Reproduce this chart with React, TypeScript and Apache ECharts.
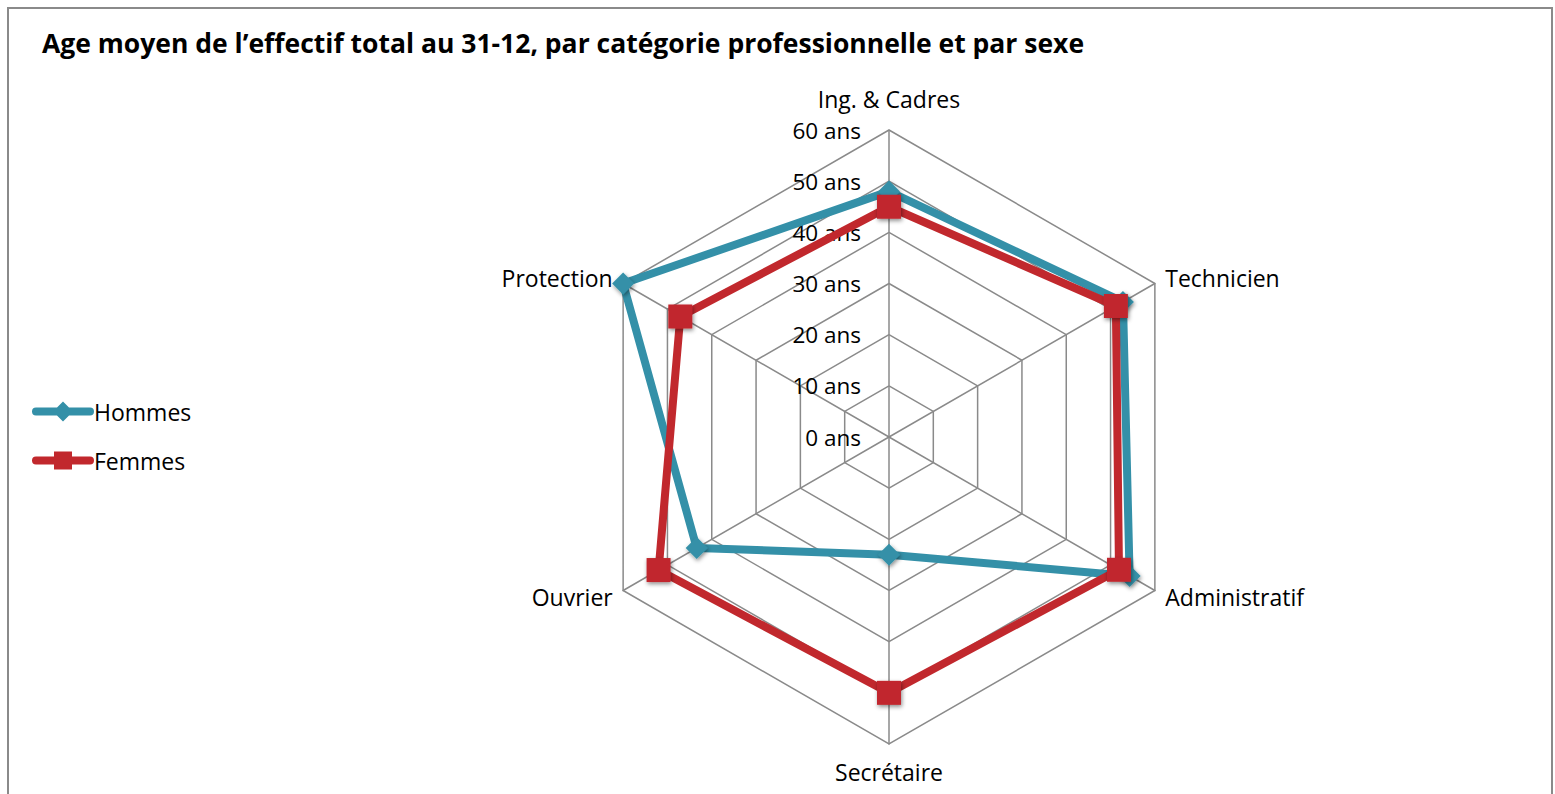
import React, { useEffect, useRef } from "react";
import * as echarts from "echarts";

const categories = ["Ing. & Cadres", "Protection", "Ouvrier", "Secrétaire", "Administratif", "Technicien"];
const hommes = [48, 60, 43.4, 23, 54.3, 52.8];
const femmes = [45, 47.1, 52, 50, 51.9, 51.2];
const axisMax = 60;
const seriesNames = ["Hommes", "Femmes"];
const titleText = "Age moyen de l’effectif total au 31-12, par catégorie professionnelle et par sexe";

const FONT = "'Open Sans', Lato, sans-serif";
const TEAL = "#3490A8";
const RED = "#C1282D";

const BAR = "M4,6 H58 A4,4 0 0 1 58,14 H4 A4,4 0 0 1 4,6 Z ";
const ICON_DIAMOND = "path://" + BAR + "M31,0 L41,10 L31,20 L21,10 Z";
const ICON_SQUARE = "path://" + BAR + "M22,1 L40,1 L40,19 L22,19 Z";

const nameGaps = [20, 12, 12, 16, 12, 12];

export default function App() {
  const ref = useRef<HTMLDivElement>(null);
  useEffect(() => {
    if (!ref.current) return;
    const chart = echarts.init(ref.current, null, { renderer: "svg" });
    const shadow = { shadowBlur: 4, shadowColor: "rgba(0,0,0,0.45)", shadowOffsetX: 1, shadowOffsetY: 2 };
    chart.setOption({
      animation: false,
      backgroundColor: "#ffffff",
      title: {
        text: titleText,
        left: 37,
        top: 24,
        textStyle: { fontFamily: FONT, fontWeight: "bold", fontSize: 26.5, color: "#000" },
      },
      graphic: [
        {
          type: "rect",
          shape: { x: 8, y: 8, width: 1544, height: 800 },
          style: { fill: "none", stroke: "#8a8a8a", lineWidth: 2 },
          silent: true,
        },
      ],
      legend: {
        orient: "vertical",
        left: 32,
        top: 400,
        padding: 0,
        itemWidth: 62,
        itemHeight: 20,
        itemGap: 26,
        data: [
          { name: seriesNames[0], icon: ICON_DIAMOND, itemStyle: { color: TEAL } },
          { name: seriesNames[1], icon: ICON_SQUARE, itemStyle: { color: RED } },
        ],
        textStyle: { fontFamily: FONT, fontSize: 23, color: "#000", padding: [0, 0, 0, -5] },
      },
      radar: {
        center: [889, 437],
        radius: 307,
        startAngle: 90,
        shape: "polygon",
        splitNumber: 6,
        nameGap: 12,
        axisName: { color: "#000", fontFamily: FONT, fontSize: 23 },
        axisLine: { lineStyle: { color: "#8a8a8a", width: 1.5 } },
        splitLine: { lineStyle: { color: "#8a8a8a", width: 1.5 } },
        splitArea: { show: false },
        axisTick: { show: false },
        axisLabel: { show: false },
        indicator: categories.map((c, i) =>
          i === 0
            ? {
                name: c,
                min: 0,
                max: axisMax,
                nameGap: nameGaps[i],
                axisLabel: {
                  show: true,
                  margin: 28,
                  formatter: "{value} ans",
                  color: "#000",
                  fontFamily: FONT,
                  fontSize: 22.5,
                },
              }
            : { name: c, min: 0, max: axisMax, nameGap: nameGaps[i] }
        ),
      },
      series: [
        {
          type: "radar",
          data: [
            {
              name: seriesNames[0],
              value: hommes,
              symbol: "diamond",
              symbolSize: 22,
              lineStyle: { color: TEAL, width: 8, cap: "round" },
              itemStyle: { color: TEAL, ...shadow },
            },
            {
              name: seriesNames[1],
              value: femmes,
              symbol: "rect",
              symbolSize: 24,
              lineStyle: { color: RED, width: 8, cap: "round" },
              itemStyle: { color: RED, ...shadow },
            },
          ],
        },
      ],
    });
    return () => chart.dispose();
  }, []);
  return (
    <div
      ref={ref}
      style={{ position: "absolute", left: 0, top: 0, width: 1555, height: 794 }}
    />
  );
}
